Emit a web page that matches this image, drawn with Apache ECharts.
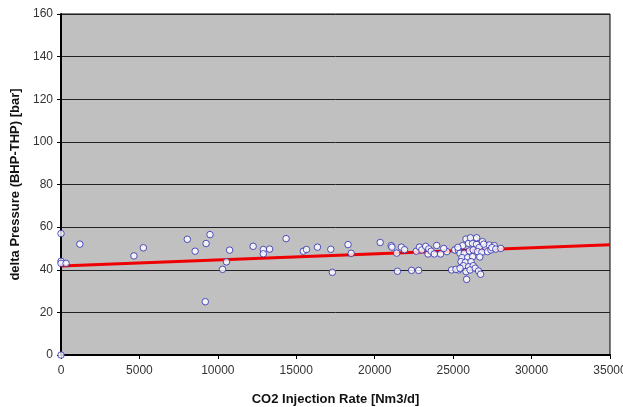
<!DOCTYPE html>
<html>
<head>
<meta charset="utf-8">
<script src="https://cdn.jsdelivr.net/npm/echarts@6/dist/echarts.min.js"></script>
<style>
html,body{margin:0;padding:0;background:#fff;}
#c{width:623px;height:407px;}
</style>
</head>
<body>
<div id="c"></div>
<script>
// Measured points: CO2 injection rate [Nm3/d]
const injectionRate = [
  0, 0, 0, 0, 320, 1200, 4650, 5250,
  8050, 8550, 9250, 9500, 9200, 10300, 10550, 10750, 12250, 12900, 12900, 13300,
  14350, 15450, 15650, 16350, 17200, 17300, 18300, 18500,
  20350, 21050, 21100, 21400, 21450, 21700, 21900, 22350, 22650, 22800, 22850, 23000,
  23250, 23400, 23450, 23600, 23800, 23950, 24200, 24900, 25150, 25350,
  25100, 25330, 25600, 25820, 26350, 25980, 26240, 26490, 26870, 26660,
  27090, 27300, 27510, 27620, 25440, 25710, 26030, 26280, 26560, 26830,
  27190, 27410, 25560, 25920, 26240, 25500, 25780, 26140, 25650, 25980,
  26280, 25180, 25440, 25820, 26080, 26410, 26620, 26750, 25860, 27470,
  27720, 28040, 26100, 26500, 26950, 25300, 26700, 24600, 24400
];
// Measured points: delta pressure BHP-THP [bar]
const deltaPressure = [
  0, 57, 44, 43, 43, 52, 46.5, 50.3,
  54.3, 48.7, 52.3, 56.5, 25, 40.2, 43.7, 49.2, 51, 49.5, 47.5, 49.7,
  54.6, 48.7, 49.5, 50.6, 49.6, 38.8, 51.8, 47.7,
  52.8, 51.3, 50.6, 47.8, 39.3, 50.6, 49.4, 39.7, 48.7, 39.7, 50.6, 49.3,
  51, 47.4, 49.8, 48.7, 47.4, 51.4, 47.4, 39.9, 49.3, 39.9,
  49.3, 49.3, 51.3, 54.4, 54.4, 52.4, 52.4, 51.9, 53.2, 50.4,
  50.4, 51.6, 50.1, 51.3, 47.7, 47.7, 48.8, 49.3, 48.5, 48.2,
  48.5, 49.3, 45.7, 45.7, 46.1, 43.8, 43.5, 43.8, 41.9, 41.4,
  41.9, 40.2, 40.7, 39.1, 39.9, 40.7, 39.4, 37.9, 35.5, 50.4,
  49.7, 50, 55, 55, 52, 50.5, 46, 48.5, 50
];
// Linear trend line end points
const trendX = [0, 35000];
const trendY = [41.8, 51.7];
// Axis ticks
const xTicks = [0, 5000, 10000, 15000, 20000, 25000, 30000, 35000];
const yTicks = [0, 20, 40, 60, 80, 100, 120, 140, 160];

const points = injectionRate.map((x, i) => [x, deltaPressure[i]]);
const trend = trendX.map((x, i) => [x, trendY[i]]);

const chart = echarts.init(document.getElementById('c'));
const font = 'Liberation Sans, Arial, sans-serif';
chart.setOption({
  animation: false,
  backgroundColor: '#ffffff',
  grid: {left: 61, right: 13, top: 14, bottom: 52, show: true, containLabel: false,
         outerBoundsMode: 'none',
         backgroundColor: '#c0c0c0', borderColor: '#000', borderWidth: 1},
  xAxis: {
    type: 'value', min: xTicks[0], max: xTicks[xTicks.length - 1], interval: 5000,
    name: 'CO2 Injection Rate [Nm3/d]', nameLocation: 'middle', nameGap: 38,
    nameTextStyle: {fontFamily: font, fontSize: 13, fontWeight: 'bold', color: '#111'},
    axisLine: {show: true, onZero: false, lineStyle: {color: '#000', width: 2}},
    axisTick: {show: true, length: 4, lineStyle: {color: '#000'}},
    axisLabel: {fontFamily: font, fontSize: 12, color: '#333', margin: 10,
                formatter: v => String(v)},
    splitLine: {show: false}
  },
  yAxis: {
    type: 'value', min: yTicks[0], max: yTicks[yTicks.length - 1], interval: 20,
    name: 'delta Pressure (BHP-THP) [bar]', nameLocation: 'middle', nameGap: 35,
    nameTextStyle: {fontFamily: font, fontSize: 13, fontWeight: 'bold', color: '#111'},
    axisLine: {show: true, onZero: false, lineStyle: {color: '#000', width: 2}},
    axisTick: {show: true, length: 4, lineStyle: {color: '#000'}},
    axisLabel: {fontFamily: font, fontSize: 12, color: '#333', margin: 8},
    splitLine: {show: true, lineStyle: {color: '#222', width: 1}}
  },
  series: [
    {
      type: 'line', data: trend, symbol: 'none', z: 2,
      lineStyle: {color: '#ee0000', width: 3}
    },
    {
      type: 'scatter', data: points, symbol: 'circle', symbolSize: 6.5, z: 3,
      itemStyle: {color: '#ffffff', borderColor: '#2a2ab0', borderWidth: 1}
    }
  ]
});
</script>
</body>
</html>
